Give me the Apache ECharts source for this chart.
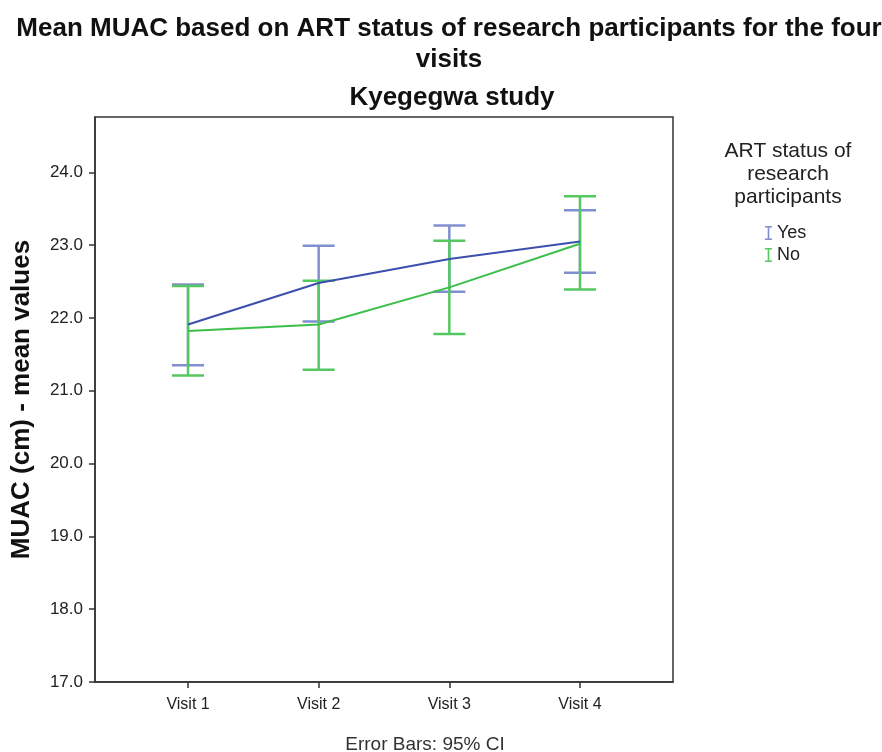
<!DOCTYPE html>
<html>
<head>
<meta charset="utf-8">
<script src="https://cdn.jsdelivr.net/npm/echarts@6/dist/echarts.min.js"></script>
<style>
  html, body { margin: 0; padding: 0; background: #fff; }
  #chart { width: 882px; height: 752px; }
</style>
</head>
<body>
<div id="chart"></div>
<script>
// Visits on the x axis (positioned at 1..4)
const visits = ['Visit 1', 'Visit 2', 'Visit 3', 'Visit 4'];
const yTicks = [17, 18, 19, 20, 21, 22, 23, 24];

// Mean MUAC (cm) with 95% CI bounds, ART = Yes
const yesMean  = [21.91, 22.48, 22.81, 23.05];
const yesLower = [21.35, 21.95, 22.36, 22.62];
const yesUpper = [22.46, 22.99, 23.27, 23.48];

// Mean MUAC (cm) with 95% CI bounds, ART = No
const noMean  = [21.82, 21.91, 22.42, 23.02];
const noLower = [21.21, 21.29, 21.78, 22.39];
const noUpper = [22.44, 22.51, 23.06, 23.67];

const blue = '#3d4fae';
const blueBar = '#7f8fd0';
const green = '#3cbf48';
const greenBar = '#55c862';
const font = '"Liberation Sans", Arial, sans-serif';

// Small "I"-shaped error-bar glyph for the legend
const barIcon = 'path://M0,0H6V1.3H3.7V10.7H6V12H0V10.7H2.3V1.3H0Z';

function errorSeries(name, lower, upper, color) {
  return {
    type: 'custom',
    name: name + ' CI',
    z: 3,
    data: lower.map((lo, i) => [i + 1, lo, upper[i]]),
    renderItem: function (params, api) {
      const x = api.value(0);
      const lo = api.coord([x, api.value(1)]);
      const hi = api.coord([x, api.value(2)]);
      const half = 16;
      const st = { stroke: color, lineWidth: 2.5 };
      return {
        type: 'group',
        children: [
          { type: 'line', shape: { x1: lo[0], y1: lo[1], x2: hi[0], y2: hi[1] }, style: st },
          { type: 'line', shape: { x1: lo[0] - half, y1: lo[1], x2: lo[0] + half, y2: lo[1] }, style: st },
          { type: 'line', shape: { x1: hi[0] - half, y1: hi[1], x2: hi[0] + half, y2: hi[1] }, style: st }
        ]
      };
    }
  };
}

const chart = echarts.init(document.getElementById('chart'), null, { renderer: 'canvas' });

chart.setOption({
  animation: false,
  backgroundColor: '#ffffff',
  title: [
    {
      text: 'Mean MUAC based on ART status of research participants for the four\nvisits',
      left: 444, top: 8, textAlign: 'center',
      textStyle: { fontFamily: font, fontSize: 26, fontWeight: 'bold', color: '#111', lineHeight: 31 }
    },
    {
      text: 'Kyegegwa study',
      left: 447, top: 80, textAlign: 'center',
      textStyle: { fontFamily: font, fontSize: 26, fontWeight: 'bold', color: '#111' }
    },
    {
      text: 'ART status of\nresearch\nparticipants',
      left: 783, top: 135, textAlign: 'center',
      textStyle: { fontFamily: font, fontSize: 21, fontWeight: 'normal', color: '#222', lineHeight: 23, align: 'center' }
    },
    {
      text: 'Error Bars: 95% CI',
      left: 420, top: 730, textAlign: 'center',
      textStyle: { fontFamily: font, fontSize: 19, fontWeight: 'normal', color: '#333' }
    }
  ],
  legend: {
    orient: 'vertical',
    left: 760, top: 219,
    itemWidth: 7, itemHeight: 14, itemGap: 4,
    textStyle: { fontFamily: font, fontSize: 18, color: '#222' },
    data: [
      { name: 'Yes', icon: barIcon, itemStyle: { color: blueBar } },
      { name: 'No', icon: barIcon, itemStyle: { color: greenBar } }
    ]
  },
  grid: {
    left: 95, top: 117, width: 578, height: 565,
    outerBoundsMode: 'none', containLabel: false,
    show: true, borderColor: '#333', borderWidth: 1.5
  },
  xAxis: {
    type: 'value',
    min: 0.288, max: 4.712,
    axisLine: { show: true, lineStyle: { color: '#333', width: 1.5 } },
    axisTick: { show: true, customValues: [1, 2, 3, 4], length: 6, lineStyle: { color: '#333', width: 1.5 } },
    axisLabel: {
      customValues: [1, 2, 3, 4],
      formatter: v => visits[Math.round(v) - 1],
      fontFamily: font, fontSize: 16, color: '#222', margin: 15
    },
    splitLine: { show: false }
  },
  yAxis: {
    type: 'value',
    min: 17, max: 24.76,
    name: 'MUAC (cm) - mean values',
    nameLocation: 'middle',
    nameGap: 60,
    nameTextStyle: { fontFamily: font, fontSize: 26, fontWeight: 'bold', color: '#111' },
    axisLine: { show: true, lineStyle: { color: '#333', width: 1.5 } },
    axisTick: { show: true, customValues: yTicks, length: 6, lineStyle: { color: '#333', width: 1.5 } },
    axisLabel: {
      customValues: yTicks,
      formatter: v => v.toFixed(1),
      fontFamily: font, fontSize: 17, color: '#222', margin: 12
    },
    splitLine: { show: false }
  },
  series: [
    {
      name: 'Yes', type: 'line', z: 4, symbol: 'none',
      lineStyle: { color: blue, width: 2 }, itemStyle: { color: blue },
      data: yesMean.map((v, i) => [i + 1, v])
    },
    {
      name: 'No', type: 'line', z: 4, symbol: 'none',
      lineStyle: { color: green, width: 2 }, itemStyle: { color: green },
      data: noMean.map((v, i) => [i + 1, v])
    },
    errorSeries('Yes', yesLower, yesUpper, blueBar),
    errorSeries('No', noLower, noUpper, greenBar)
  ]
});
</script>
</body>
</html>
